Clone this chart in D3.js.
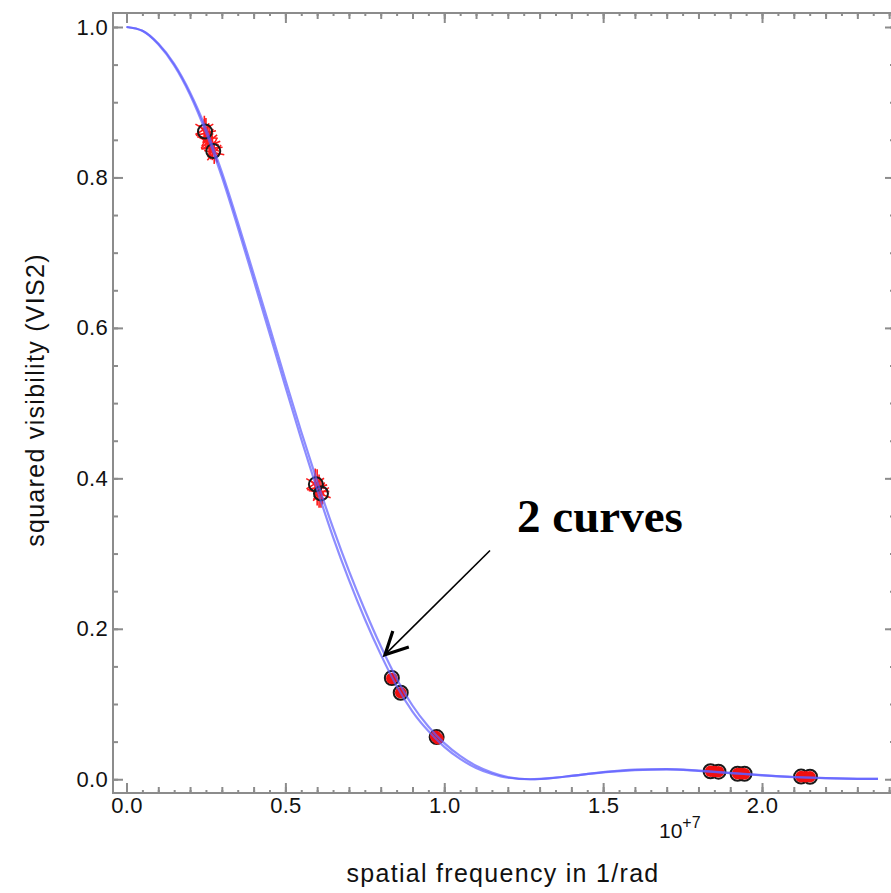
<!DOCTYPE html>
<html lang="en">
<head>
<meta charset="UTF-8">
<title>Squared visibility vs spatial frequency</title>
<script src="https://d3js.org/d3.v7.min.js"></script>
<style>
  body { margin: 0; background: #fff; }
  svg { display: block; font-family: "Liberation Sans", Arial, Helvetica, sans-serif; }
  .axis path, .axis line { stroke: #8c8c8c; stroke-width: 2; fill: none; }
  .axis text { font-size: 22px; fill: #111; letter-spacing: 0.3px; }
  .title { font-size: 25px; fill: #111; letter-spacing: 1.3px; }
</style>
</head>
<body>
<script>
// spatial frequency in units of 1e7 1/rad
const curveFreq = [0, 0.05, 0.10, 0.15, 0.20, 0.25, 0.30, 0.35, 0.40, 0.45, 0.50, 0.55, 0.60, 0.65,
  0.70, 0.75, 0.80, 0.85, 0.90, 0.95, 1.00, 1.05, 1.10, 1.15, 1.20, 1.27, 1.35, 1.40, 1.50,
  1.60, 1.70, 1.80, 1.90, 2.00, 2.10, 2.20, 2.30, 2.365];
// the two fitted curves (almost on top of each other)
const curveA = [1.000, 0.995, 0.978, 0.951, 0.913, 0.865, 0.807, 0.741, 0.672, 0.602, 0.531, 0.462,
  0.396, 0.334, 0.277, 0.225, 0.177, 0.134, 0.098, 0.070, 0.048, 0.031, 0.018, 0.009, 0.003, 0.000,
  0.002, 0.0045, 0.0095, 0.0128, 0.0135, 0.0115, 0.0085, 0.0055, 0.003, 0.0015, 0.0006, 0.0004];
const curveB = [1.000, 0.995, 0.977, 0.949, 0.910, 0.860, 0.801, 0.734, 0.664, 0.593, 0.522, 0.452,
  0.385, 0.322, 0.265, 0.213, 0.166, 0.124, 0.090, 0.064, 0.043, 0.027, 0.015, 0.007, 0.002, 0.000,
  0.0022, 0.0045, 0.009, 0.012, 0.013, 0.011, 0.0082, 0.0052, 0.0028, 0.0014, 0.0006, 0.0004];

// black open circles
const circFreq = [0.247, 0.273, 0.596, 0.612, 0.835, 0.863, 0.976, 1.838, 1.863, 1.923, 1.945, 2.123, 2.151];
const circVis = [0.861, 0.835, 0.392, 0.380, 0.1346, 0.115, 0.056, 0.0106, 0.0100, 0.0073, 0.0073, 0.0035, 0.0033];

// red measurements with error bars (first baselines)
const starFreq = [0.245, 0.250, 0.255, 0.260, 0.265, 0.270, 0.276, 0.594, 0.600, 0.606, 0.612];
const starVis = [0.864, 0.859, 0.853, 0.848, 0.843, 0.839, 0.833, 0.393, 0.388, 0.383, 0.379];
const starErr = [0.018, 0.020, 0.015, 0.022, 0.019, 0.016, 0.015, 0.020, 0.024, 0.022, 0.018];

// red measurements (longer baselines)
const dotFreq = [0.835, 0.863, 0.973, 0.980, 1.838, 1.850, 1.863, 1.923, 1.934, 1.945, 2.123, 2.137, 2.151];
const dotVis = [0.134, 0.115, 0.057, 0.054, 0.0106, 0.0103, 0.0100, 0.0075, 0.0074, 0.0072, 0.0035, 0.0034, 0.0033];

const xMajor = [0, 0.5, 1.0, 1.5, 2.0];
const yMajor = [0, 0.2, 0.4, 0.6, 0.8, 1.0];

const width = 891, height = 893;
const frame = {left: 113, top: 13, right: 895, bottom: 793};

const svg = d3.select("body").append("svg")
    .attr("width", width)
    .attr("height", height);

svg.append("rect").attr("width", width).attr("height", height).attr("fill", "#fff");

const x = d3.scaleLinear().domain([-0.0425, 2.4185]).range([frame.left, frame.right]);
const y = d3.scaleLinear().domain([-0.0183, 1.0186]).range([frame.bottom, frame.top]);

const xTenths = d3.range(0, 25).map(i => i / 10);
const xTwentieths = d3.range(0, 49).map(i => i / 20);
const yMinor = d3.range(0, 21).map(i => i / 20);

// bottom axis
const axBottom = svg.append("g").attr("class", "axis").attr("transform", `translate(0,${frame.bottom})`);
axBottom.append("g").call(d3.axisBottom(x).tickValues(xTwentieths).tickSize(-3).tickSizeOuter(0).tickFormat(""));
axBottom.append("g").call(d3.axisBottom(x).tickValues(xTenths).tickSize(-6).tickSizeOuter(0).tickFormat(""));
axBottom.append("g").call(d3.axisBottom(x).tickValues(xMajor).tickSize(-10).tickSizeOuter(0)
    .tickPadding(4).tickFormat(d3.format(".1f")));

// top axis
const axTop = svg.append("g").attr("class", "axis").attr("transform", `translate(0,${frame.top})`);
axTop.append("g").call(d3.axisTop(x).tickValues(xTwentieths).tickSize(-3).tickSizeOuter(0).tickFormat(""));
axTop.append("g").call(d3.axisTop(x).tickValues(xTenths).tickSize(-6).tickSizeOuter(0).tickFormat(""));
axTop.append("g").call(d3.axisTop(x).tickValues(xMajor).tickSize(-10).tickSizeOuter(0).tickFormat(""));

// left axis
const axLeft = svg.append("g").attr("class", "axis").attr("transform", `translate(${frame.left},0)`);
axLeft.append("g").call(d3.axisLeft(y).tickValues(yMinor).tickSize(-5).tickSizeOuter(0).tickFormat(""));
axLeft.append("g").call(d3.axisLeft(y).tickValues(yMajor).tickSize(-10).tickSizeOuter(0)
    .tickPadding(5).tickFormat(d3.format(".1f")));

// right axis
const axRight = svg.append("g").attr("class", "axis").attr("transform", `translate(${frame.right},0)`);
axRight.append("g").call(d3.axisRight(y).tickValues(yMinor).tickSize(-5).tickSizeOuter(0).tickFormat(""));
axRight.append("g").call(d3.axisRight(y).tickValues(yMajor).tickSize(-10).tickSizeOuter(0).tickFormat(""));

// frame instead of the four separate domain lines
svg.selectAll(".axis .domain").remove();
svg.append("rect")
    .attr("x", frame.left).attr("y", frame.top)
    .attr("width", frame.right - frame.left).attr("height", frame.bottom - frame.top)
    .attr("fill", "none").attr("stroke", "#8c8c8c").attr("stroke-width", 2);

// exponent label
const expo = svg.append("text").attr("x", 659).attr("y", 838).attr("fill", "#111")
    .style("font-size", "21px");
expo.append("tspan").text("10");
expo.append("tspan").attr("dy", -10).style("font-size", "16px").text("+7");

// axis titles
svg.append("text").attr("class", "title")
    .attr("x", 503).attr("y", 882)
    .attr("text-anchor", "middle")
    .text("spatial frequency in 1/rad");

svg.append("text").attr("class", "title")
    .attr("transform", "translate(44,400) rotate(-90)")
    .attr("text-anchor", "middle")
    .text("squared visibility (VIS2)");

// data points
const stars = starFreq.map((f, i) => ({f, v: starVis[i], e: starErr[i]}));
const dots = dotFreq.map((f, i) => ({f, v: dotVis[i]}));
const circles = circFreq.map((f, i) => ({f, v: circVis[i]}));

const pts = svg.append("g");

pts.selectAll(".err").data(stars).enter().append("line")
    .attr("x1", d => x(d.f)).attr("x2", d => x(d.f))
    .attr("y1", d => y(d.v - d.e)).attr("y2", d => y(d.v + d.e))
    .attr("stroke", "#ff1a1a").attr("stroke-width", 1.6);

const asterisk = d3.symbol().type(d3.symbolAsterisk).size(300);
pts.selectAll(".star").data(stars).enter().append("path")
    .attr("d", asterisk)
    .attr("transform", (d, i) => `translate(${x(d.f)},${y(d.v)}) rotate(${i * 17})`)
    .attr("fill", "none").attr("stroke", "#ff1a1a").attr("stroke-width", 1.6);

pts.selectAll(".circ").data(circles).enter().append("circle")
    .attr("cx", d => x(d.f)).attr("cy", d => y(d.v)).attr("r", 7)
    .attr("fill", "none").attr("stroke", "#1a1a1a").attr("stroke-width", 2);

pts.selectAll(".dot").data(dots).enter().append("circle")
    .attr("cx", d => x(d.f)).attr("cy", d => y(d.v)).attr("r", 5.8)
    .attr("fill", "#f01010");

// model curves on top
const line = d3.line().x(d => x(d[0])).y(d => y(d[1])).curve(d3.curveMonotoneX);
[curveA, curveB].forEach(vals => {
    svg.append("path")
        .datum(curveFreq.map((f, i) => [f, vals[i]]))
        .attr("d", line)
        .attr("fill", "none")
        .attr("stroke", "#5c5cff")
        .attr("stroke-opacity", 0.7)
        .attr("stroke-width", 2.2);
});

// annotation
const tip = [0.8135, 0.1656], tail = [1.144, 0.304];
svg.append("line")
    .attr("x1", x(tail[0])).attr("y1", y(tail[1]))
    .attr("x2", x(tip[0])).attr("y2", y(tip[1]))
    .attr("stroke", "#000").attr("stroke-width", 1.6);

const ang = Math.atan2(y(tail[1]) - y(tip[1]), x(tail[0]) - x(tip[0]));
const headLen = 25, spread = 27 * Math.PI / 180;
const tx = x(tip[0]), ty = y(tip[1]);
svg.append("path")
    .attr("d", `M${tx + headLen * Math.cos(ang - spread)},${ty + headLen * Math.sin(ang - spread)}` +
        `L${tx},${ty}L${tx + headLen * Math.cos(ang + spread)},${ty + headLen * Math.sin(ang + spread)}`)
    .attr("fill", "none").attr("stroke", "#000").attr("stroke-width", 3.2)
    .attr("stroke-linejoin", "miter");

svg.append("text")
    .attr("x", x(1.229)).attr("y", y(0.328))
    .style("font-family", "'Liberation Serif', 'Times New Roman', serif")
    .style("font-weight", "bold")
    .style("font-size", "47px")
    .attr("fill", "#000")
    .text("2 curves");
</script>
</body>
</html>
